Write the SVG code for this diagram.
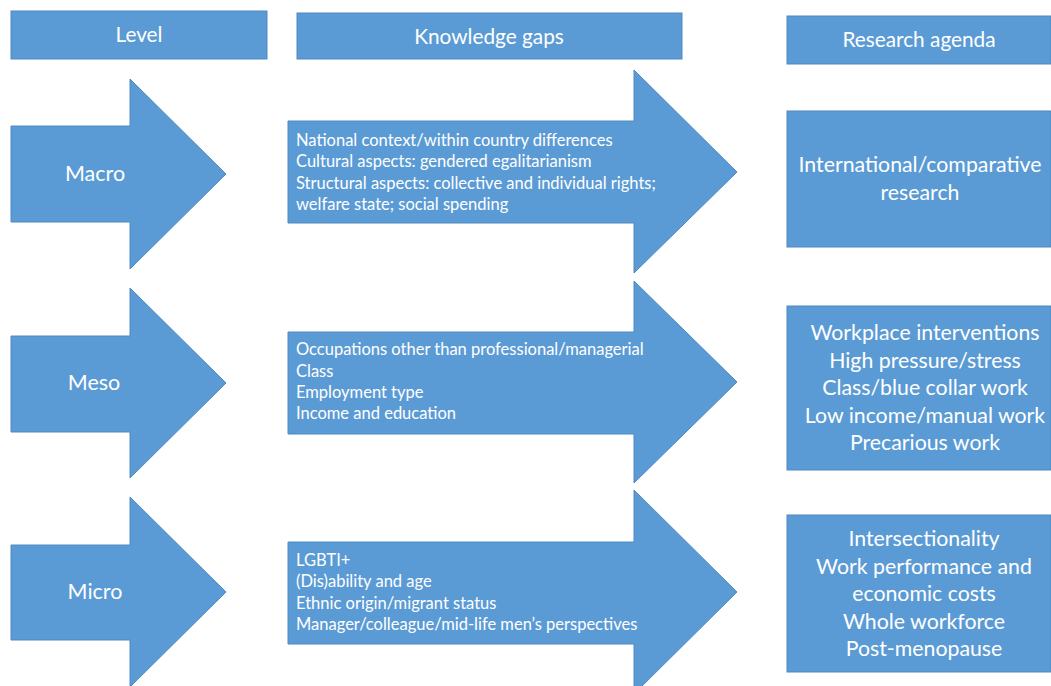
<svg xmlns="http://www.w3.org/2000/svg" width="1051" height="686" viewBox="0 0 1051 686">
<style>
.s{fill:#5b9bd5;stroke:#4f89c0;stroke-width:1}
.t{fill:#ffffff;font-family:Lato,"Open Sans",sans-serif}
.h{font-size:20.8px;text-anchor:middle}
.l{font-size:21.5px;text-anchor:middle}
.k{font-size:16.5px}
.r{font-size:21.3px;text-anchor:middle}
</style>
<rect width="1051" height="686" fill="#ffffff"/>
<g id="hdr-level"><rect class="s" x="11" y="11" width="256" height="48"/><text class="t h" x="139" y="42">Level</text></g>
<g id="hdr-gaps"><rect class="s" x="297" y="13" width="385" height="46"/><text class="t h" x="489" y="44">Knowledge gaps</text></g>
<g id="hdr-agenda"><rect class="s" x="787" y="16" width="264" height="48"/><text class="t h" x="919" y="47">Research agenda</text></g>

<g id="macro-level"><path class="s" d="M11,126 H130 V79 L226,174 L130,269 V222 H11 Z"/><text class="t l" x="95" y="181">Macro</text></g>
<g id="meso-level"><path class="s" d="M11,336 H130 V288 L226,383 L130,478 V432 H11 Z"/><text class="t l" x="94" y="390">Meso</text></g>
<g id="micro-level"><path class="s" d="M11,545 H130 V497 L226,592 L130,687 V640 H11 Z"/><text class="t l" x="95" y="599">Micro</text></g>

<g id="macro-gaps"><path class="s" d="M288,121 H634 V70 L737,172 L634,273 V223 H288 Z"/>
<text class="t k" x="296" y="145.5">National context/within country differences</text>
<text class="t k" x="296" y="167">Cultural aspects: gendered egalitarianism</text>
<text class="t k" x="296" y="188.5">Structural aspects: collective and individual rights;</text>
<text class="t k" x="296" y="210">welfare state; social spending</text></g>
<g id="meso-gaps"><path class="s" d="M288,332 H634 V281 L737,382 L634,483 V434 H288 Z"/>
<text class="t k" x="296" y="354.5">Occupations other than professional/managerial</text>
<text class="t k" x="296" y="376.5">Class</text>
<text class="t k" x="296" y="397.5">Employment type</text>
<text class="t k" x="296" y="419">Income and education</text></g>
<g id="micro-gaps"><path class="s" d="M288,542 H634 V490 L737,592 L634,694 V644 H288 Z"/>
<text class="t k" x="296" y="565.5">LGBTI+</text>
<text class="t k" x="296" y="587">(Dis)ability and age</text>
<text class="t k" x="296" y="608.5">Ethnic origin/migrant status</text>
<text class="t k" x="296" y="630">Manager/colleague/mid-life men’s perspectives</text></g>

<g id="macro-agenda"><rect class="s" x="787" y="111" width="264" height="136"/>
<text class="t r" x="920" y="172">International/comparative</text>
<text class="t r" x="920" y="199.5">research</text></g>
<g id="meso-agenda"><rect class="s" x="787" y="306" width="264" height="164"/>
<text class="t r" x="925" y="340">Workplace interventions</text>
<text class="t r" x="925" y="367.5">High pressure/stress</text>
<text class="t r" x="925" y="395">Class/blue collar work</text>
<text class="t r" x="925" y="422.5">Low income/manual work</text>
<text class="t r" x="925" y="450">Precarious work</text></g>
<g id="micro-agenda"><rect class="s" x="787" y="515" width="264" height="157"/>
<text class="t r" x="924" y="546">Intersectionality</text>
<text class="t r" x="924" y="573.5">Work performance and</text>
<text class="t r" x="924" y="601">economic costs</text>
<text class="t r" x="924" y="628.5">Whole workforce</text>
<text class="t r" x="924" y="656">Post-menopause</text></g>
<g id="connectors"></g>
</svg>
